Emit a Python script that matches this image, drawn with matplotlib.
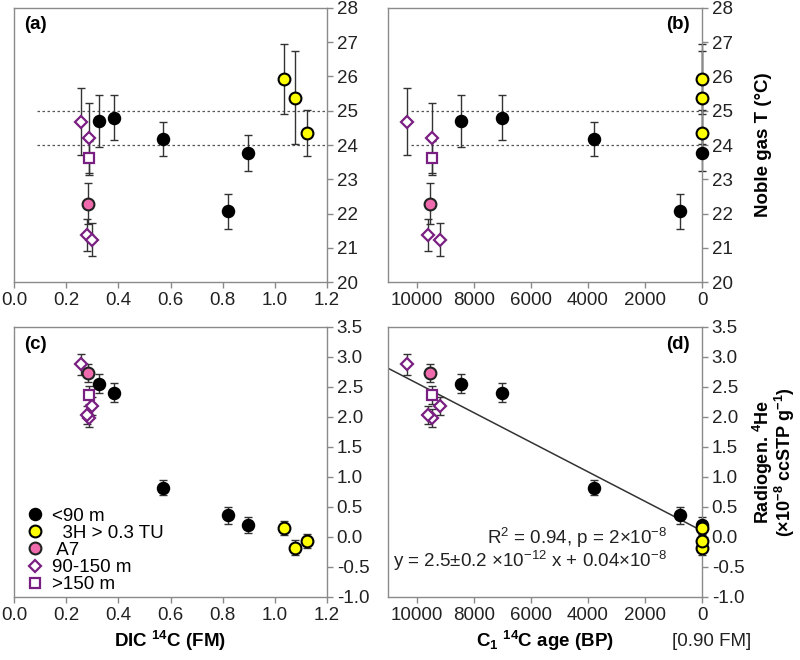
import matplotlib
matplotlib.use('Agg')
import matplotlib.pyplot as plt
import numpy as np

plt.rcParams['font.family'] = ['Liberation Sans', 'DejaVu Sans']
plt.rcParams['mathtext.fontset'] = 'custom'
plt.rcParams['mathtext.rm'] = 'Liberation Sans'
plt.rcParams['mathtext.bf'] = 'Liberation Sans:bold'
plt.rcParams['mathtext.it'] = 'Liberation Sans:italic'
plt.rcParams['axes.unicode_minus'] = False

# <90 m
fm_shallow = [0.324, 0.385, 0.570, 0.820, 0.899]
age_shallow = [8440, 7010, 3790, 760, 0]
ngt_shallow = [24.70, 24.80, 24.18, 22.06, 23.77]
ngt_shallow_err = [0.76, 0.66, 0.50, 0.52, 0.52]
he_shallow = [2.55, 2.40, 0.82, 0.36, 0.20]
he_shallow_err = [0.16, 0.16, 0.13, 0.14, 0.13]

# 3H > 0.3 TU
fm_tritium = [1.036, 1.079, 1.124]
age_tritium = [0, 0, 0]
ngt_tritium = [25.93, 25.38, 24.35]
ngt_tritium_err = [1.03, 1.35, 0.68]
he_tritium = [0.15, -0.18, -0.07]
he_tritium_err = [0.12, 0.12, 0.12]

# A7
fm_a7 = [0.285]
age_a7 = [9530]
ngt_a7 = [22.29]
ngt_a7_err = [0.6]
he_a7 = [2.72]
he_a7_err = [0.15]

# 90-150 m
fm_mid = [0.257, 0.289, 0.279, 0.300]
age_mid = [10350, 9470, 9610, 9180]
ngt_mid = [24.68, 24.20, 21.37, 21.24]
ngt_mid_err = [0.98, 1.03, 0.47, 0.48]
he_mid = [2.87, 1.98, 2.03, 2.18]
he_mid_err = [0.18, 0.15, 0.15, 0.15]

# >150 m
fm_deep = [0.288]
age_deep = [9470]
ngt_deep = [23.62]
ngt_deep_err = [0.5]
he_deep = [2.36]
he_deep_err = [0.15]

ref_lines = [24, 25]
ref_fm_start = 0.087
ref_age_start = 10200

fit_slope = 2.46e-4
fit_intercept = 0.10
fit_age_range = [11000, 0]

groups = [
    dict(fm=fm_shallow, age=age_shallow, ngt=ngt_shallow, ngt_err=ngt_shallow_err,
         he=he_shallow, he_err=he_shallow_err, label='<90 m',
         style=dict(marker='o', ms=8.5, mfc='black', mec='black', mew=1.2)),
    dict(fm=fm_tritium, age=age_tritium, ngt=ngt_tritium, ngt_err=ngt_tritium_err,
         he=he_tritium, he_err=he_tritium_err, label='  3H > 0.3 TU',
         style=dict(marker='o', ms=8.5, mfc='#ffff00', mec='black', mew=1.5)),
    dict(fm=fm_a7, age=age_a7, ngt=ngt_a7, ngt_err=ngt_a7_err,
         he=he_a7, he_err=he_a7_err, label=' A7',
         style=dict(marker='o', ms=8.5, mfc='#f06aae', mec='#222222', mew=1.5)),
    dict(fm=fm_mid, age=age_mid, ngt=ngt_mid, ngt_err=ngt_mid_err,
         he=he_mid, he_err=he_mid_err, label='90-150 m',
         style=dict(marker='D', ms=6, mfc='white', mec='#7a1f82', mew=1.6)),
    dict(fm=fm_deep, age=age_deep, ngt=ngt_deep, ngt_err=ngt_deep_err,
         he=he_deep, he_err=he_deep_err, label='>150 m',
         style=dict(marker='s', ms=7, mfc='white', mec='#7a1f82', mew=1.6)),
]

fs = 13.5
gray = '#8a8a8a'

fig = plt.figure(figsize=(8, 6.6), dpi=100)
ax_a = fig.add_axes([0.0175, 0.5727, 0.39125, 0.4152])
ax_b = fig.add_axes([0.485, 0.5727, 0.3925, 0.4152])
ax_c = fig.add_axes([0.0175, 0.0955, 0.39125, 0.4098])
ax_d = fig.add_axes([0.485, 0.0955, 0.3925, 0.4098])


def style_axes(ax):
    for s in ax.spines.values():
        s.set_color(gray)
        s.set_linewidth(1.0)
    ax.yaxis.tick_right()
    ax.xaxis.tick_bottom()
    ax.tick_params(direction='out', length=4, width=1, color=gray,
                   labelsize=fs, labelcolor='#222222', pad=3)


for ax, xkey, ykey, ekey in [(ax_a, 'fm', 'ngt', 'ngt_err'), (ax_b, 'age', 'ngt', 'ngt_err'),
                             (ax_c, 'fm', 'he', 'he_err'), (ax_d, 'age', 'he', 'he_err')]:
    for g in groups:
        eb = ax.errorbar(g[xkey], g[ykey], yerr=g[ekey], fmt='none', ecolor='#333333',
                         elinewidth=1, capsize=3, capthick=1, zorder=2)
        for art in eb.get_children():
            art.set_clip_on(False)
        ax.plot(g[xkey], g[ykey], ls='none', label=g['label'], zorder=3,
                clip_on=False, **g['style'])
    style_axes(ax)

# top panels
for ax, start, end in [(ax_a, ref_fm_start, 1.2), (ax_b, ref_age_start, 0)]:
    for y in ref_lines:
        ax.plot([start, end], [y, y], ls=(0, (2, 2)), color='#555555', lw=0.9, zorder=1)
    ax.set_ylim(20, 28)
    ax.set_yticks(np.arange(20, 29, 1))

for ax in (ax_a, ax_c):
    ax.set_xlim(0, 1.2)
    ax.set_xticks(np.arange(0, 1.21, 0.2))
    ax.set_xticklabels(['%.1f' % v for v in np.arange(0, 1.21, 0.2)])

for ax in (ax_b, ax_d):
    ax.set_xlim(11000, 0)
    ax.set_xticks([10000, 8000, 6000, 4000, 2000, 0])

for ax in (ax_c, ax_d):
    ax.set_ylim(-1.0, 3.5)
    ticks = np.arange(-1.0, 3.51, 0.5)
    ax.set_yticks(ticks)
    ax.set_yticklabels(['%.1f' % v for v in ticks])

# regression line
fit_x = np.array(fit_age_range, dtype=float)
ax_d.plot(fit_x, fit_slope * fit_x + fit_intercept, color='#333333', lw=1.1, zorder=1)

ax_d.text(0.889, 0.218, r'R$^2$ = 0.94, p = 2×10$^{-8}$', transform=ax_d.transAxes,
          ha='right', va='center', fontsize=fs, color='#222222')
ax_d.text(0.889, 0.134, r'y = 2.5±0.2 ×10$^{-12}$ x + 0.04×10$^{-8}$', transform=ax_d.transAxes,
          ha='right', va='center', fontsize=fs, color='#222222')

# panel labels
ax_a.text(0.032, 0.938, '(a)', transform=ax_a.transAxes, fontsize=fs, fontweight='bold', va='center')
ax_b.text(0.962, 0.938, '(b)', transform=ax_b.transAxes, fontsize=fs, fontweight='bold', va='center', ha='right')
ax_c.text(0.032, 0.933, '(c)', transform=ax_c.transAxes, fontsize=fs, fontweight='bold', va='center')
ax_d.text(0.962, 0.933, '(d)', transform=ax_d.transAxes, fontsize=fs, fontweight='bold', va='center', ha='right')

# axis labels
ax_c.set_xlabel(r'DIC $^{\mathbf{14}}$C (FM)', fontsize=fs, fontweight='bold', labelpad=4)
ax_d.set_xlabel(r'C$_{\mathbf{1}}$ $^{\mathbf{14}}$C age (BP)', fontsize=fs, fontweight='bold', labelpad=4)
ax_d.annotate('[0.90 FM]', xy=(0, 0), xycoords=('data', 'axes fraction'),
              xytext=(7, -32), textcoords='offset points', ha='center', va='center',
              fontsize=fs, color='#222222', annotation_clip=False)

ax_b.yaxis.set_label_position('right')
ax_b.set_ylabel('Noble gas T (°C)', fontsize=fs, fontweight='bold', labelpad=16)
ax_d.yaxis.set_label_position('right')
ax_d.set_ylabel('Radiogen. $^{\\mathbf{4}}$He\n(×10$^{\\mathbf{-8}}$ ccSTP g$^{\\mathbf{-1}}$)',
                fontsize=13, fontweight='bold', labelpad=5, linespacing=0.85)

ax_c.legend(loc='lower left', bbox_to_anchor=(0.0, -0.035), frameon=False, fontsize=fs,
            handlelength=0.8, handletextpad=0.5, labelspacing=0.0, borderaxespad=0.3,
            numpoints=1)

fig.savefig('out.png', dpi=100)
